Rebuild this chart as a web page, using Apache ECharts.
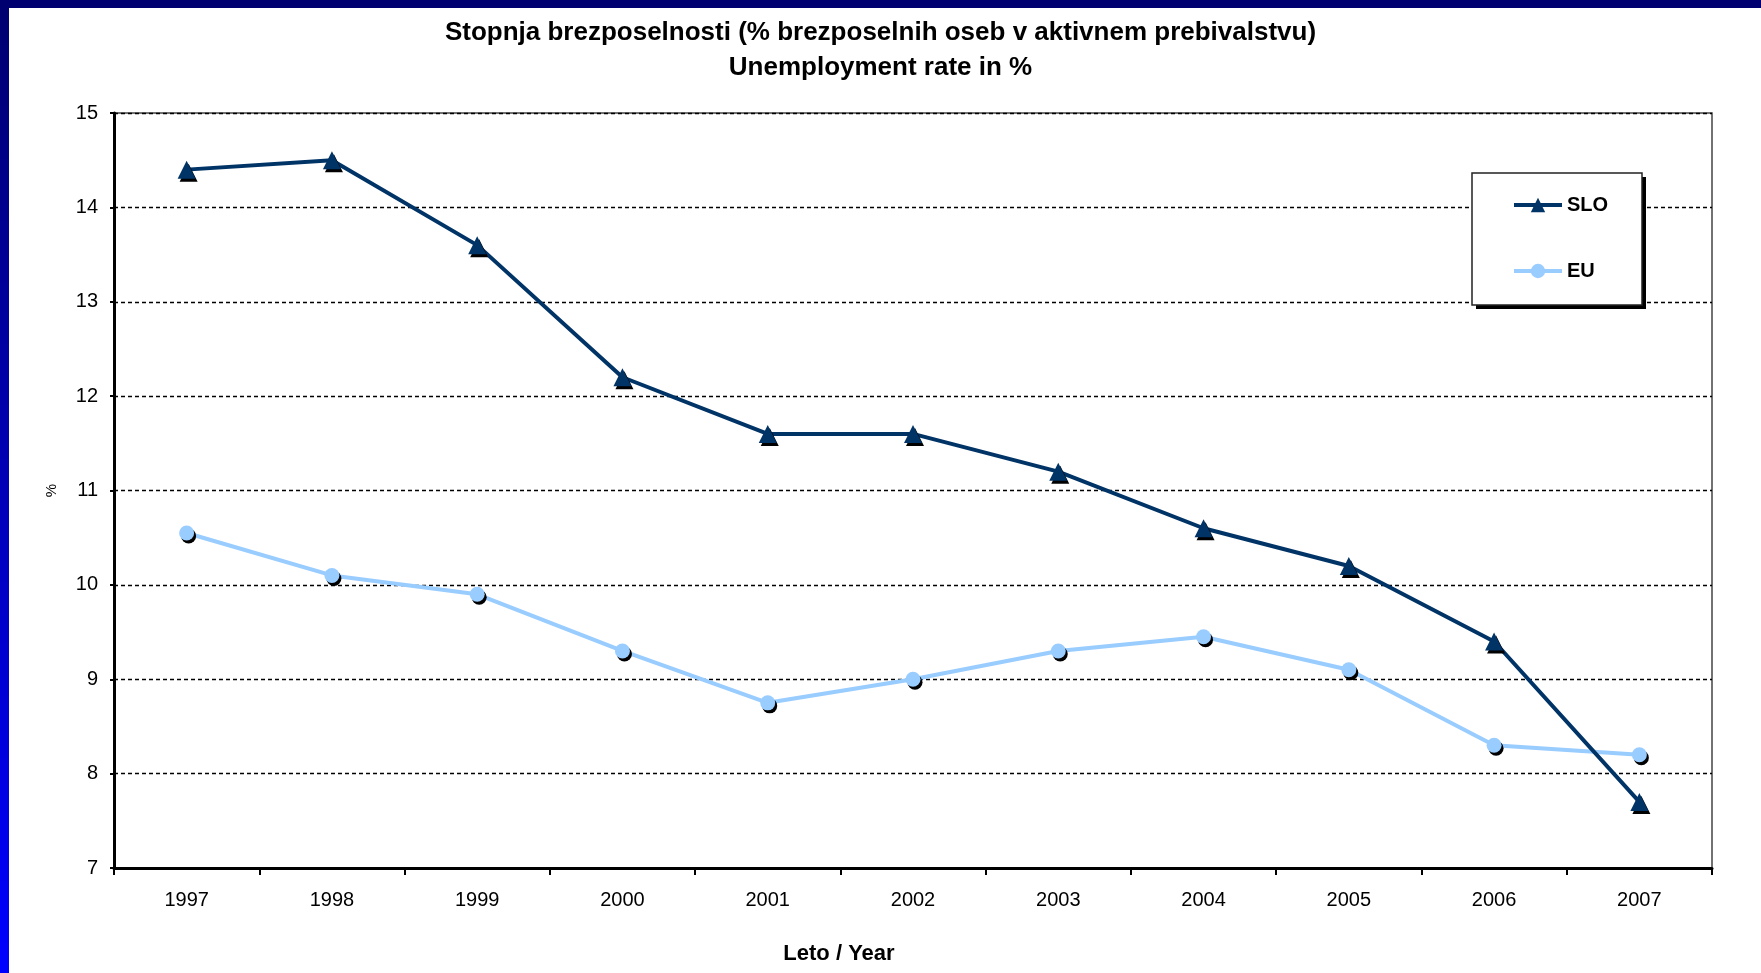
<!DOCTYPE html>
<html>
<head>
<meta charset="utf-8">
<title>Stopnja brezposelnosti</title>
<script src="https://cdn.jsdelivr.net/npm/echarts@6/dist/echarts.min.js"></script>
<style>
  html, body { margin: 0; padding: 0; background: #ffffff; }
  #main { width: 1761px; height: 973px; }
</style>
</head>
<body>
<div id="main"></div>
<script>
// leta
const years = ['1997', '1998', '1999', '2000', '2001', '2002', '2003', '2004', '2005', '2006', '2007'];
// stopnja brezposelnosti v %
const sloValues = [14.4, 14.5, 13.6, 12.2, 11.6, 11.6, 11.2, 10.6, 10.2, 9.4, 7.7];
const euValues = [10.55, 10.1, 9.9, 9.3, 8.75, 9.0, 9.3, 9.45, 9.1, 8.3, 8.2];
const yTicks = [7, 8, 9, 10, 11, 12, 13, 14, 15];

const font = '"Liberation Sans", Arial, sans-serif';
const chart = echarts.init(document.getElementById('main'));

// okvir legende (s senco)
const legendBox = { x: 1472, y: 173, width: 170, height: 132 };

const option = {
    backgroundColor: '#ffffff',
    textStyle: { fontFamily: font, color: '#000' },
    animation: false,
    title: {
        text: 'Stopnja brezposelnosti (% brezposelnih oseb v aktivnem prebivalstvu)\nUnemployment rate in %',
        left: 'center',
        top: 10,
        textStyle: {
            fontFamily: font,
            fontSize: 26,
            fontWeight: 'bold',
            color: '#000',
            lineHeight: 35
        }
    },
    // okvir prosojnice
    graphic: [
        {
            type: 'rect',
            shape: { x: 0, y: 0, width: 1761, height: 8 },
            style: { fill: '#000070' }
        },
        {
            type: 'rect',
            shape: { x: 0, y: 0, width: 9, height: 973 },
            style: {
                fill: new echarts.graphic.LinearGradient(0, 0, 0, 1, [
                    { offset: 0, color: '#000070' },
                    { offset: 1, color: '#0000ff' }
                ])
            }
        },
        {
            type: 'rect',
            z: 10,
            shape: { x: legendBox.x + 4, y: legendBox.y + 4, width: legendBox.width, height: legendBox.height },
            style: { fill: '#000' }
        },
        {
            type: 'rect',
            z: 11,
            shape: legendBox,
            style: { fill: '#fff', stroke: '#222', lineWidth: 1.5 }
        },
        {
            type: 'text',
            x: 839,
            y: 954,
            style: {
                text: 'Leto / Year',
                fontFamily: font,
                fontSize: 22,
                fontWeight: 'bold',
                fill: '#000',
                align: 'center',
                verticalAlign: 'middle'
            }
        }
    ],
    legend: {
        orient: 'vertical',
        left: 1512,
        top: 195,
        padding: 0,
        itemGap: 46,
        itemWidth: 48,
        itemHeight: 18,
        z: 20,
        lineStyle: { width: 4 },
        textStyle: { fontFamily: font, fontSize: 20, fontWeight: 'bold', color: '#000' },
        data: ['SLO', 'EU']
    },
    grid: {
        left: 114,
        right: 49,
        top: 113,
        bottom: 105,
        show: true,
        borderColor: '#444',
        borderWidth: 1.5,
        backgroundColor: 'transparent'
    },
    xAxis: {
        type: 'category',
        data: years,
        boundaryGap: true,
        axisLine: { lineStyle: { color: '#000', width: 3 } },
        axisTick: { show: true, inside: false, length: 7, lineStyle: { color: '#000', width: 2 } },
        axisLabel: { fontFamily: font, fontSize: 20, color: '#000', margin: 22 }
    },
    yAxis: {
        type: 'value',
        min: yTicks[0],
        max: yTicks[yTicks.length - 1],
        interval: 1,
        name: '%',
        nameLocation: 'middle',
        nameGap: 55,
        nameRotate: 90,
        nameTextStyle: { fontFamily: font, fontSize: 15, color: '#000' },
        axisLine: { show: true, lineStyle: { color: '#000', width: 3 } },
        axisTick: { show: true, length: 4, lineStyle: { color: '#000', width: 2 } },
        axisLabel: { fontFamily: font, fontSize: 20, color: '#000', margin: 16 },
        splitLine: { show: true, lineStyle: { color: '#000', width: 1.3, type: [4, 3] } }
    },
    series: [
        {
            name: 'SLO',
            type: 'line',
            data: sloValues,
            symbol: 'triangle',
            symbolSize: 18,
            lineStyle: { color: '#003366', width: 4 },
            itemStyle: {
                color: '#003366',
                shadowColor: '#000',
                shadowBlur: 0,
                shadowOffsetX: 2,
                shadowOffsetY: 3
            },
            z: 3
        },
        {
            name: 'EU',
            type: 'line',
            data: euValues,
            symbol: 'circle',
            symbolSize: 15,
            lineStyle: { color: '#99ccff', width: 4 },
            itemStyle: {
                color: '#99ccff',
                shadowColor: '#000',
                shadowBlur: 0,
                shadowOffsetX: 2,
                shadowOffsetY: 3
            },
            z: 2
        }
    ]
};

chart.setOption(option);
</script>
</body>
</html>
